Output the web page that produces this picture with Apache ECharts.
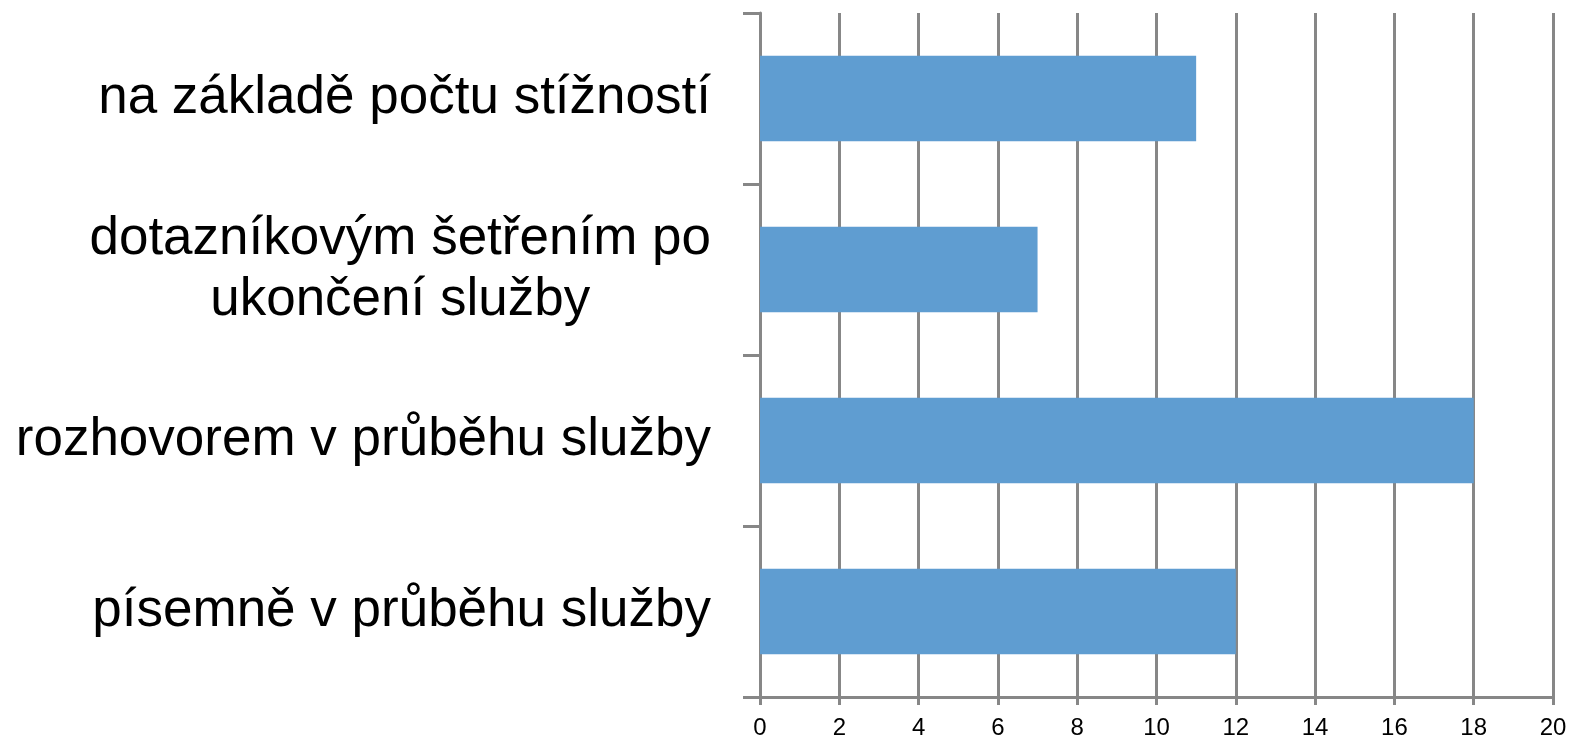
<!DOCTYPE html>
<html>
<head>
<meta charset="utf-8">
<title>bar</title>
<script src="https://cdn.jsdelivr.net/npm/echarts@6/dist/echarts.min.js"></script>
<style>
html,body{margin:0;padding:0;background:#fff;}
#bar{width:1570px;height:742px;}
</style>
</head>
<body>
<div id="bar"></div>
<script>
// data
var categories = ['na základě počtu stížností', 'dotazníkovým šetřením po\nukončení služby', 'rozhovorem v průběhu služby', 'písemně v průběhu služby'];
var values = [11, 7, 18, 12];
var xTicks = [0, 20, 2];   // min, max, step

createBar();

//柱状图
function createBar(){
	var myChart = echarts.init(document.getElementById('bar'));
	var option = {
		animation:false,
		grid:{
			left:760,
			right:17,
			top:13,
			bottom:45
		},
		xAxis:{
			type:'value',
			min:xTicks[0],
			max:xTicks[1],
			interval:xTicks[2],
			axisLine:{show:true,lineStyle:{color:'#878787',width:3}},
			axisTick:{show:true,length:8,lineStyle:{color:'#878787',width:3}},
			axisLabel:{
				color:'#000',
				fontFamily:'Liberation Sans',
				fontSize:24,
				margin:19
			},
			splitLine:{show:true,lineStyle:{color:'#878787',width:3}}
		},
		yAxis:{
			type:'category',
			inverse:true,
			data:categories,
			axisLine:{show:true,lineStyle:{color:'#878787',width:3}},
			axisTick:{show:true,length:17,lineStyle:{color:'#878787',width:3}},
			axisLabel:{
				margin:49,
				formatter:function(v){
					return v.split('\n').map(function(s){ return '{c|' + s + '}'; }).join('\n');
				},
				rich:{
					c:{
						align:'center',
						color:'#000',
						fontFamily:'Liberation Sans',
						fontSize:53,
						lineHeight:61
					}
				}
			}
		},
		series:[{
			type:'bar',
			data:values,
			barWidth:'50%',
			itemStyle:{color:'#5F9DD1'}
		}]
	};
	myChart.setOption(option);
}
</script>
</body>
</html>
